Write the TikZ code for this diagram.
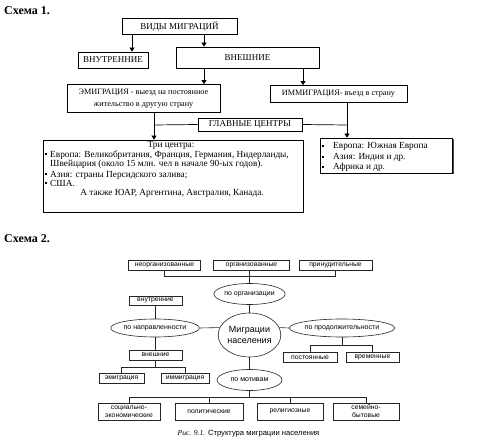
\documentclass[tikz,border=0pt]{standalone}
\usepackage{fontspec}
\setmainfont{Liberation Serif}
\newfontfamily\sansf{Liberation Sans}
\usetikzlibrary{arrows.meta,shapes.geometric}
\begin{document}
\begin{tikzpicture}[x=1pt,y=-1pt,
  box/.style={draw, rectangle, inner sep=0pt, line width=0.7pt, fill=white,
    font=\fontsize{9}{10}\selectfont, align=center},
  arr/.style={-{Triangle[width=5pt,length=4pt]}, line width=0.7pt},
  con/.style={line width=0.6pt, draw=black!85},
  txt/.style={inner sep=0pt, anchor=west, font=\fontsize{9.3}{10}\selectfont},
  title/.style={inner sep=0pt, anchor=base west, font=\bfseries\fontsize{12}{14}\selectfont},
  sbox/.style={draw=black!85, rectangle, inner sep=0pt, line width=0.6pt,
    font=\sansf\fontsize{6.8}{8}\selectfont, align=center},
  ell/.style={draw=black!85, ellipse, inner sep=0pt, line width=0.6pt,
    font=\sansf\fontsize{7}{8}\selectfont, align=center}]
\useasboundingbox[fill=white] (0,0) rectangle (494,443);

% ---------- Схема 1 ----------
\node[title] (t1) at (4,15) {Схема 1.};
\node[box, minimum width=115pt, minimum height=16pt] (vidy) at (179.5,26.5) {ВИДЫ МИГРАЦИЙ};
\node[box, minimum width=70pt, minimum height=16pt] (vnutr) at (113,60) {ВНУТРЕННИЕ};
\node[box, minimum width=143pt, minimum height=21pt] (vnesh) at (247.5,57.5) {ВНЕШНИЕ};
\node[box, minimum width=153pt, minimum height=28pt, font=\fontsize{8.2}{12}\selectfont] (emig) at (143.5,98.5)
  {ЭМИГРАЦИЯ - выезд на постоянное\\жительство в другую страну};
\node[box, minimum width=137pt, minimum height=17pt, font=\fontsize{8.2}{9}\selectfont] (immig) at (338.5,94) {ИММИГРАЦИЯ- въезд в страну};
\node[box, minimum width=104pt, minimum height=13pt] (glav) at (250,124.5) {ГЛАВНЫЕ ЦЕНТРЫ};
\node[box, minimum width=260pt, minimum height=72pt] (centers) at (173,176) {};
\fill[black!70] (321.5,139.5) rectangle (453.5,174.5);
\node[box, minimum width=132pt, minimum height=35pt] (europe) at (386,155.5) {};

\coordinate (a1) at (132,0);
\coordinate (a2) at (204,0);
\coordinate (a3) at (303,0);
\coordinate (a4) at (154,125);
\coordinate (a5) at (347,125);
\draw[arr] (vidy.south -| a1) -- (vnutr.north -| a1);
\draw[arr] (vidy.south -| a2) -- (vnesh.north -| a2);
\draw[arr] (vnesh.south -| a2) -- (emig.north -| a2);
\draw[arr] (vnesh.south -| a3) -- (immig.north -| a3);
\draw[arr] (emig.south -| a4) -- (centers.north -| a4);
\draw[line width=0.7pt] (a4) -- (glav.west);
\draw[arr] (immig.south -| a5) -- (europe.north -| a5);
\draw[line width=0.7pt] (glav.east) -- (a5);

% text of the three centres
\node[txt, anchor=base] (c0) at (171,148) {Три центра:};
\node[txt, anchor=base west] (c1) at (50,157.5) {Европа: Великобритания, Франция, Германия, Нидерланды,};
\node[txt, anchor=base west] (c2) at (50,167) {Швейцария (около 15 млн. чел в начале 90-ых годов).};
\node[txt, anchor=base west] (c3) at (50,177.5) {Азия: страны Персидского залива;};
\node[txt, anchor=base west] (c4) at (50,186.5) {США.};
\node[txt, anchor=base] (c5) at (172,196) {А также ЮАР, Аргентина, Австралия, Канада.};
\fill (44.5,153) rectangle (46.5,155);
\fill (44.5,173) rectangle (46.5,175);
\fill (44.5,182) rectangle (46.5,184);

\node[txt, anchor=base west] (e1) at (333,149) {Европа: Южная Европа};
\node[txt, anchor=base west] (e2) at (333,160) {Азия: Индия и др.};
\node[txt, anchor=base west] (e3) at (333,170) {Африка и др.};
\fill (321.5,145) rectangle (323.5,147);
\fill (321.5,156) rectangle (323.5,158);
\fill (321.5,166) rectangle (323.5,168);

% ---------- Схема 2 ----------
\node[title] (t2) at (4,242) {Схема 2.};
\node[sbox, minimum width=72pt, minimum height=10pt] (neorg) at (164.5,265.5) {неорганизованные};
\node[sbox, minimum width=76pt, minimum height=10pt] (org) at (251.5,265.5) {организованные};
\node[sbox, minimum width=73pt, minimum height=10pt] (prin) at (335.5,265.5) {принудительные};
\node[ell, minimum width=67pt, minimum height=21pt] (poorg) at (249.5,294) {по организации};
\node[ell, minimum width=58pt, minimum height=44pt, font=\sansf\fontsize{9}{10.5}\selectfont] (migr) at (249.5,335) {Миграции\\населения};
\node[ell, minimum width=78pt, minimum height=18pt] (ponapr) at (155,328) {по направленности};
\node[ell, minimum width=91pt, minimum height=18pt] (popr) at (342,328) {по продолжительности};
\node[ell, minimum width=65pt, minimum height=21pt] (pomot) at (249.5,380) {по мотивам};
\node[sbox, minimum width=53pt, minimum height=9pt] (vnutr2) at (155.5,300.5) {внутренние};
\node[sbox, minimum width=53pt, minimum height=10pt] (vnesh2) at (155.5,355) {внешние};
\node[sbox, minimum width=45pt, minimum height=10pt] (emig2) at (121.5,378.5) {эмиграция};
\node[sbox, minimum width=48pt, minimum height=10pt] (immig2) at (185,378.5) {иммиграция};
\node[sbox, minimum width=54pt, minimum height=10pt] (post) at (310,357.5) {постоянные};
\node[sbox, minimum width=53pt, minimum height=10pt] (vrem) at (372.5,357.5) {временные};
\node[sbox, minimum width=62pt, minimum height=17pt] (soc) at (129,411.5) {социально-\\экономические};
\node[sbox, minimum width=68pt, minimum height=17pt] (pol) at (209,411.5) {политические};
\node[sbox, minimum width=66pt, minimum height=17pt] (rel) at (290,411.5) {религиозные};
\node[sbox, minimum width=66pt, minimum height=17pt] (sem) at (366,411.5) {семейно-\\бытовые};
\node[inner sep=0pt, anchor=base, font=\sansf\fontsize{7.6}{9}\selectfont] (cap) at (248.5,435)
  {{\rmfamily\itshape Рис. 9.1.} Структура миграции населения};

\coordinate (h1) at (0,276);
\coordinate (h2) at (0,367);
\coordinate (h3) at (0,345);
\coordinate (h4) at (0,397);
\draw[con] (neorg.south) -- (neorg.south |- h1) -- (prin.south |- h1) -- (prin.south);
\draw[con] (org.south -| poorg.north) -- (poorg.north);
\draw[con] (poorg.south) -- (migr.north);
\draw[con] (migr.south) -- (pomot.north);
\draw[con] (ponapr.east) -- (migr.166);
\draw[con] (migr.14) -- (popr.west);
\draw[con] (ponapr.north) -- (ponapr.north |- vnutr2.south);
\draw[con] (ponapr.south) -- (ponapr.south |- vnesh2.north);
\draw[con] (vnesh2.south) -- (vnesh2.south |- h2);
\draw[con] (emig2.north) -- (emig2.north |- h2) -- (immig2.north |- h2) -- (immig2.north);
\draw[con] (popr.south) -- (popr.south |- h3);
\draw[con] (post.north) -- (post.north |- h3) -- (vrem.north |- h3) -- (vrem.north);
\draw[con] (pomot.south) -- (pomot.south |- h4);
\draw[con] (soc.north) -- (soc.north |- h4) -- (sem.north |- h4) -- (sem.north);
\draw[con] (pol.north) -- (pol.north |- h4);
\draw[con] (rel.north) -- (rel.north |- h4);
\end{tikzpicture}
\end{document}
